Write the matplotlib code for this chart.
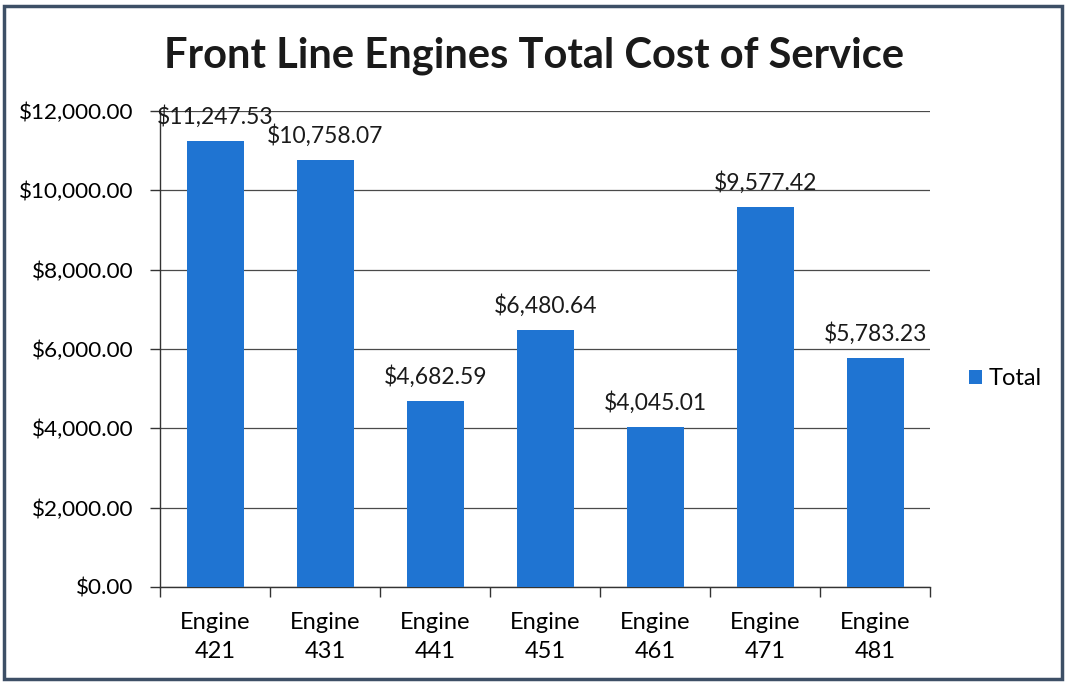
import matplotlib.pyplot as plt
from matplotlib.patches import Rectangle

engines = ['Engine\n421', 'Engine\n431', 'Engine\n441', 'Engine\n451',
           'Engine\n461', 'Engine\n471', 'Engine\n481']
totals = [11247.53, 10758.07, 4682.59, 6480.64, 4045.01, 9577.42, 5783.23]
yticks = [0, 2000, 4000, 6000, 8000, 10000, 12000]

plt.rcParams['font.family'] = ['Lato', 'DejaVu Sans']

fig = plt.figure(figsize=(10.68, 6.83), dpi=100)
ax = fig.add_axes([0.150, 0.1406, 0.721, 0.697])

x = list(range(len(engines)))
bars = ax.bar(x, totals, width=0.52, color='#1f74d2', zorder=3, label='Total')

for xi, v in zip(x, totals):
    ax.text(xi, v + 330, '${:,.2f}'.format(v), ha='center', va='bottom',
            fontsize=16.5, color='#1a1a1a', zorder=4)

ax.set_xlim(-0.5, len(engines) - 0.5)
ax.set_ylim(0, 12000)
ax.set_yticks(yticks)
ax.set_yticklabels(['${:,.2f}'.format(t) for t in yticks], fontsize=16.2)
ax.yaxis.grid(True, color='#4a4a4a', linewidth=0.9, zorder=0)

# category ticks sit between the bars
ax.set_xticks(x)
ax.set_xticklabels(engines, fontsize=17, linespacing=1.45)
ax.set_xticks([i - 0.5 for i in range(len(engines) + 1)], minor=True)
ax.tick_params(axis='x', which='major', length=0, pad=18)
ax.tick_params(axis='x', which='minor', length=7, color='#333333', width=1)
ax.tick_params(axis='y', length=7, color='#333333', width=1, pad=12)

for side in ['top', 'right']:
    ax.spines[side].set_visible(False)
for side in ['left', 'bottom']:
    ax.spines[side].set_color('#333333')
    ax.spines[side].set_linewidth(1)

fig.text(0.5, 0.918, 'Front Line Engines Total Cost of Service', ha='center',
         va='center', fontsize=30, fontweight='bold', color='#1a1a1a')

leg = ax.legend(loc='center left', bbox_to_anchor=(1.05, 0.437), frameon=False,
                fontsize=17, handlelength=0.55, handleheight=0.55,
                handletextpad=0.3, borderpad=0, borderaxespad=0)

# outer chart frame
fig.patches.append(Rectangle((0.004, 0.006), 0.99, 0.985, transform=fig.transFigure,
                             fill=False, edgecolor='#3d4f66', linewidth=2.5))

plt.savefig('out.png', dpi=100)
plt.close()
